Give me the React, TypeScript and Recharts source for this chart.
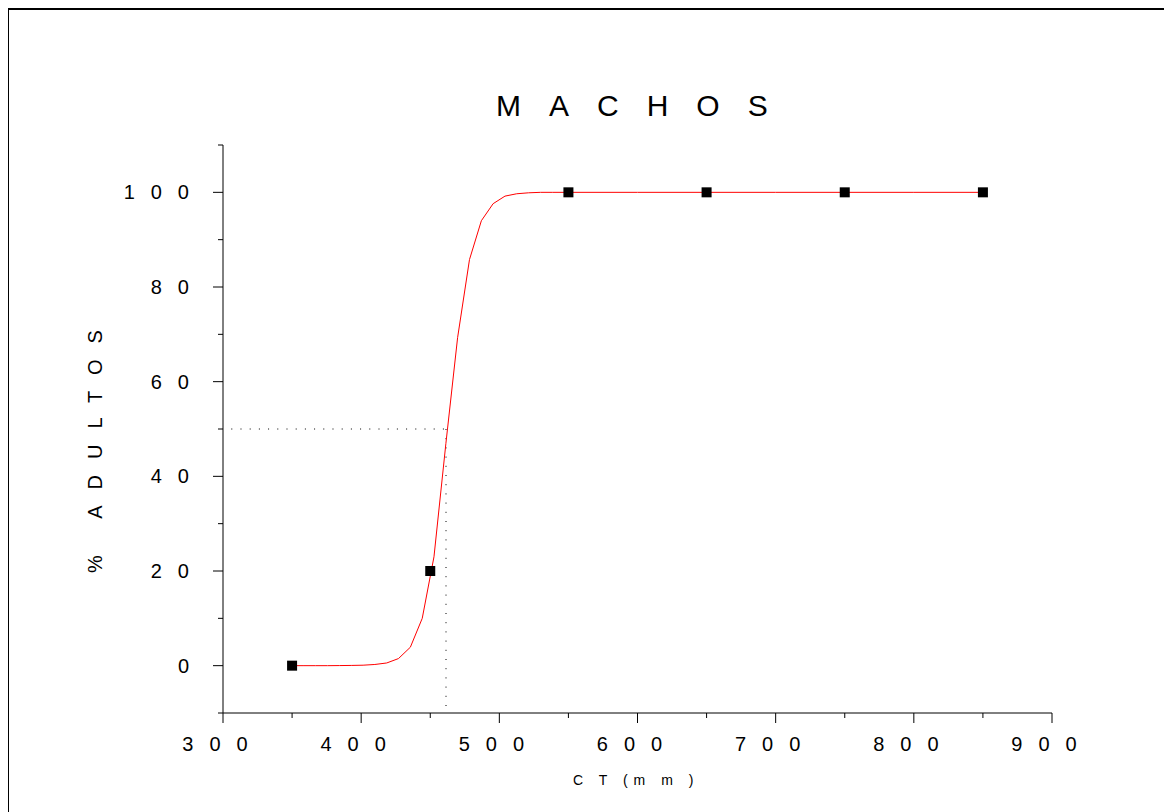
import React from "react";
import {
  ComposedChart,
  Line,
  Scatter,
  XAxis,
  YAxis,
  ReferenceLine,
} from "recharts";

// observed proportions
const obsLength = [350, 450, 550, 650, 750, 850];
const obsAdults = [0, 20, 100, 100, 100, 100];

// fitted curve, vertices
const curveLength = [
  350, 358.6, 367.1, 375.7, 384.2, 392.8, 401.4, 409.9, 418.5, 427, 435.6,
  444.2, 452.7, 461.3, 469.8, 478.4, 487, 495.5, 504.1, 512.6, 521.2, 529.8,
  538.3, 600, 700, 800, 850,
];
const curveAdults = [
  0, 0, 0, 0, 0.02, 0.05, 0.1, 0.25, 0.57, 1.5, 3.9, 10, 23, 46.9, 69.3, 85.8,
  94, 97.6, 99.2, 99.7, 99.9, 100, 100, 100, 100, 100, 100,
];

// L50
const l50 = 461.4;

const xTicks = [300, 350, 400, 450, 500, 550, 600, 650, 700, 750, 800, 850, 900];
const yTicks = [-10, 0, 10, 20, 30, 40, 50, 60, 70, 80, 90, 100, 110];

const FONT = '"Liberation Sans", Arial, sans-serif';

const obsData = obsLength.map((x, i) => ({ x, y: obsAdults[i] }));
const curveData = curveLength.map((x, i) => ({ x, y: curveAdults[i] }));

const XTick = (props: any) => {
  const { x, y, payload } = props;
  const v = payload.value;
  const major = v % 100 === 0;
  return (
    <g>
      <line x1={x} x2={x} y1={y} y2={y + (major ? 10 : 5)} stroke="#000" />
      {major && (
        <text
          x={x}
          y={y + 38}
          textAnchor="middle"
          fontSize={20}
          letterSpacing={16}
          fontFamily={FONT}
          fill="#000"
        >
          {v}
        </text>
      )}
    </g>
  );
};

const YTick = (props: any) => {
  const { x, y, payload } = props;
  const v = payload.value;
  const major = v % 20 === 0;
  return (
    <g>
      <line x1={x - (major ? 10 : 5)} x2={x} y1={y} y2={y} stroke="#000" />
      {major && v >= 0 && v <= 100 && (
        <text
          x={x - 18}
          y={y + 7}
          textAnchor="end"
          fontSize={20}
          letterSpacing={16}
          fontFamily={FONT}
          fill="#000"
        >
          {v}
        </text>
      )}
    </g>
  );
};

const Square = (props: any) => {
  const { cx, cy } = props;
  return <rect x={cx - 5} y={cy - 5} width={10} height={10} fill="#000" />;
};

export default function App() {
  return (
    <div style={{ position: "relative", width: 1164, height: 804, overflow: "hidden" }}>
      <ComposedChart
        width={1164}
        height={804}
        margin={{ top: 137, right: 120, bottom: 0, left: 0 }}
      >
        <XAxis
          dataKey="x"
          type="number"
          domain={[300, 900]}
          ticks={xTicks}
          interval={0}
          tickSize={0}
          tickMargin={0}
          tickLine={false}
          tick={<XTick />}
          axisLine={{ stroke: "#000" }}
          height={99}
          allowDataOverflow
        />
        <YAxis
          dataKey="y"
          type="number"
          domain={[-10, 110]}
          ticks={yTicks}
          interval={0}
          tickSize={0}
          tickMargin={0}
          tickLine={false}
          tick={<YTick />}
          axisLine={{ stroke: "#000" }}
          width={215}
          allowDataOverflow
        />
        <ReferenceLine
          segment={[
            { x: 306, y: 50 },
            { x: l50, y: 50 },
          ]}
          stroke="#000"
          strokeDasharray="1 8.2"
        />
        <ReferenceLine
          segment={[
            { x: l50, y: 50 },
            { x: l50, y: -10 },
          ]}
          stroke="#000"
          strokeDasharray="1 8.2"
        />
        <Scatter data={obsData} dataKey="y" shape={<Square />} isAnimationActive={false} />
        <Line
          data={curveData}
          dataKey="y"
          type="linear"
          stroke="#ff0000"
          strokeWidth={1}
          dot={false}
          activeDot={false}
          isAnimationActive={false}
        />
        <text x={488} y={108} fontSize={30} letterSpacing={28} fontFamily={FONT} fill="#000">
          MACHOS
        </text>
        <text
          x={94}
          y={565}
          transform="rotate(-90, 94, 565)"
          fontSize={20}
          letterSpacing={16}
          fontFamily={FONT}
          fill="#000"
        >
          % ADULTOS
        </text>
        <text x={565} y={777} fontSize={14} letterSpacing={6} fontFamily={FONT} fill="#000">
          C T (m m )
        </text>
      </ComposedChart>
      <div
        style={{
          position: "absolute",
          left: -1,
          top: 0,
          width: 1200,
          height: 900,
          border: "2px solid #000",
          pointerEvents: "none",
        }}
      />
    </div>
  );
}
